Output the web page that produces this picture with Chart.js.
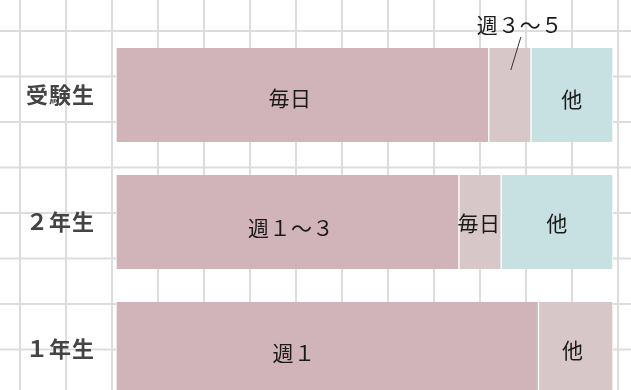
<!DOCTYPE html>
<html>
<head>
<meta charset="utf-8">
<script src="https://cdn.jsdelivr.net/npm/chart.js@4"></script>
<style>
    html, body { margin: 0; padding: 0; overflow: hidden; background: #fff; }
    #wrap {
        width: 631px;
        height: 420px;
        background-color: #fff;
        background-image:
            linear-gradient(to right, #dcdcdc 2px, transparent 2px),
            linear-gradient(to bottom, #dcdcdc 2px, transparent 2px);
        background-size: 46px 45.5px;
        background-position: 19px 30px;
    }
    #mystudy { display: block; }
</style>
</head>
<body>
<div id="wrap"><canvas id="mystudy" width="631" height="420"></canvas></div>
<script>
// rows
const groups = ['受験生', '２年生', '１年生'];

// first / second / third segment of each row (percent)
const seg1 = [75, 69, 85];
const seg2 = [8.5, 8.5, 15];
const seg3 = [16.5, 22.5, 0];

const seg1Text = ['毎日', '週１〜３', '週１'];
const seg2Text = ['週３〜５', '毎日', '他'];
const seg3Text = ['他', '他', ''];

// letter spacing for the row names (Chart.js has no option for it)
const tickSpacing = {
    id: 'tickSpacing',
    beforeDraw(chart) {
        chart.ctx.letterSpacing = '1px';
    }
};

const segmentLabels = {
    id: 'segmentLabels',
    afterDatasetsDraw(chart, args, opts) {
        let ctx = chart.ctx;
        let xs = chart.scales.x;
        ctx.save();
        ctx.font = '21px "Noto Sans CJK JP"';
        ctx.letterSpacing = '0.5px';
        ctx.fillStyle = '#1a1a1a';
        ctx.textAlign = 'center';
        ctx.textBaseline = 'middle';
        chart.data.datasets.forEach(function (ds, i) {
            let meta = chart.getDatasetMeta(i);
            meta.data.forEach(function (bar, j) {
                let text = ds.texts[j];
                if (!text) return;
                let p = bar.getProps(['x', 'y', 'base', 'height'], true);
                let x = (p.x + p.base) / 2;
                let y = p.y;
                let n = opts.nudge[i + '-' + j] || {};
                if (n.at !== undefined) x = xs.getPixelForValue(n.at);
                x += n.dx || 0;
                y += n.dy || 0;
                if (n.callout) {
                    let top = p.y - p.height / 2;
                    ctx.fillText(text, x + 10, top - 23);
                    ctx.strokeStyle = '#333';
                    ctx.lineWidth = 1;
                    ctx.beginPath();
                    ctx.moveTo(x + 11, top - 11);
                    ctx.lineTo(x + 1, top + 22);
                    ctx.stroke();
                } else {
                    ctx.fillText(text, x, y);
                }
            });
        });
        ctx.restore();
    }
};

let chartdata = {
    labels: groups,
    datasets: [{
        data: seg1,
        texts: seg1Text,
        backgroundColor: '#d1b3ba'
    }, {
        data: seg2,
        texts: seg2Text,
        backgroundColor: '#d8c7c9'
    }, {
        data: seg3,
        texts: seg3Text,
        backgroundColor: '#c7e0e1'
    }]
};

let ctx = document.getElementById('mystudy');
let myBarChart = new Chart(ctx, {
    type: 'bar',
    data: chartdata,
    plugins: [tickSpacing, segmentLabels],
    options: {
        indexAxis: 'y',
        responsive: false,
        animation: false,
        layout: { padding: { top: 31.5, bottom: 7.5, left: 0, right: 18 } },
        datasets: {
            bar: {
                barThickness: 94,
                borderColor: '#ffffff',
                borderWidth: { left: 1, right: 1, top: 0, bottom: 0 },
                borderSkipped: false
            }
        },
        scales: {
            x: {
                stacked: true,
                display: false,
                min: 0,
                max: 100
            },
            y: {
                stacked: true,
                afterFit: function (scale) {
                    scale.width = 116;
                    scale.paddingTop = 0;
                    scale.paddingBottom = 0;
                },
                grid: { display: false, drawTicks: false },
                border: { display: false },
                ticks: {
                    padding: 21,
                    color: '#444',
                    font: { family: '"Noto Sans CJK JP"', size: 22, weight: 'bold' }
                }
            }
        },
        plugins: {
            legend: { display: false },
            tooltip: { enabled: false },
            segmentLabels: {
                nudge: {
                    '0-0': { at: 35, dy: 3 },
                    '0-1': { at: 35.2, dy: 6 },
                    '0-2': { at: 35.8, dy: 4 },
                    '1-0': { callout: true },
                    '1-1': { dx: -1, dy: 1 },
                    '1-2': { dx: -3, dy: 1 },
                    '2-0': { dy: 4 },
                    '2-1': { dy: 1 }
                }
            }
        }
    }
});
</script>
</body>
</html>
